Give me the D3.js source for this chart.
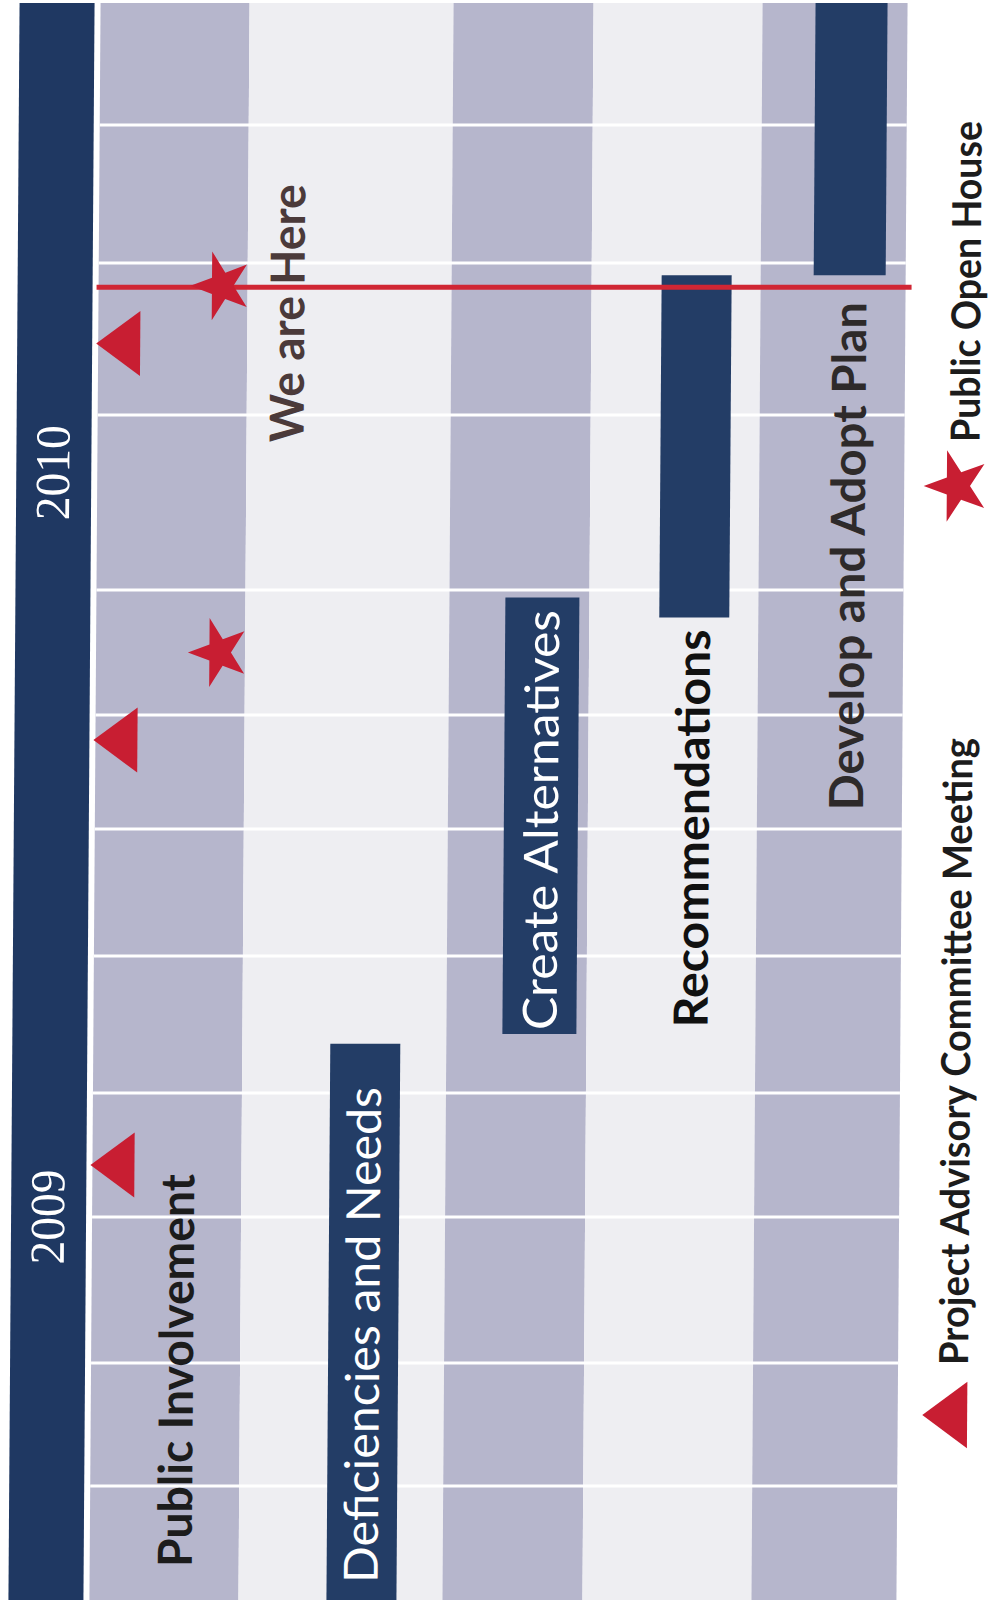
<!DOCTYPE html>
<html><head><meta charset="utf-8">
<script src="https://cdn.jsdelivr.net/npm/d3@7"></script>
<style>body{margin:0;background:#fff}svg{display:block}</style>
</head><body><div id="chart"></div>
<script>
// ---------------- DATA ----------------
const periods = [0,1,2,3,4,5,6,7,8,9,10,11,12];          // month boundaries of the schedule
const years = ["2009","2010"];
const yearLabelAt = [3.0, 8.67];                          // month position of year labels
const tasks = ["Public Involvement","Deficiencies and Needs","Create Alternatives","Recommendations","Develop and Adopt Plan"];
const taskStart = [null, 0, 4.43, 7.78, 9.92];
const taskEnd   = [null, 4.36, 7.94, 9.92, 12];
const pacMeetings = [3.42, 6.78, 9.47];                  // Project Advisory Committee Meetings
const openHouses  = [7.5, 9.85];                          // Public Open Houses
const nowAt = 9.84;
const nowLabel = "We are Here";
const legendLabels = ["Project Advisory Committee Meeting","Public Open House"];

// ---------------- LAYOUT ----------------
const W = 993, H = 1603;
const yBreaks = [1600,1486,1363,1217,1093,956,829,715,590,415,263,125,3];
const y = d3.scaleLinear().domain(periods).range(yBreaks);
const colLeft  = d3.scaleOrdinal().domain(tasks).range([95,244,448,588,757]);
const colWidth = d3.scaleOrdinal().domain(tasks).range([149,204,140,169,145]);
const colFill  = d3.scaleOrdinal().domain(tasks).range(["#b6b6cc","#eeeef2","#b6b6cc","#eeeef2","#b6b6cc"]);
const barLeft  = d3.scaleOrdinal().domain(tasks).range([0,332,504,658,810]);
const barWidth = d3.scaleOrdinal().domain(tasks).range([0,70,74,70,72]);
const labelX   = d3.scaleOrdinal().domain(tasks).range([197,383,558,709,863]);
const labelCfg = [
  {anchor:"start", ref:d=>0,           off:-33, len:393, weight:700, fill:"#1c1c1c"},
  {anchor:"start", ref:d=>taskStart[1], off:-17, len:496, weight:400, fill:"#ffffff"},
  {anchor:"start", ref:d=>taskStart[2], off:-4,  len:420, weight:400, fill:"#ffffff"},
  {anchor:"end",   ref:d=>taskStart[3], off:12,  len:398, weight:700, fill:"#111111"},
  {anchor:"end",   ref:d=>taskStart[4], off:27,  len:508, weight:700, fill:"#2e2a2a"}
];
const RED = "#c81e32", NAVY = "#1f3862", BAR = "#233d66";
const SANS = "Lato, 'Open Sans', sans-serif";

const svg = d3.select("#chart").append("svg").attr("width", W).attr("height", H);
svg.append("rect").attr("width", W).attr("height", H).attr("fill", "#fff");
const g = svg.append("g").attr("transform", "translate(0,800) skewX(-0.4) translate(0,-800)");

// columns
g.selectAll("rect.col").data(tasks).join("rect")
  .attr("x", d => colLeft(d)).attr("width", d => colWidth(d))
  .attr("y", y(12)).attr("height", y(0) - y(12))
  .attr("fill", d => colFill(d));

// month grid lines
g.selectAll("line.grid").data(periods.slice(1, -1)).join("line")
  .attr("x1", 95).attr("x2", 902)
  .attr("y1", d => y(d)).attr("y2", d => y(d))
  .attr("stroke", "#ffffff").attr("stroke-width", 3);

// year bar
g.append("rect").attr("x", 14).attr("width", 75)
  .attr("y", y(12)).attr("height", y(0) - y(12)).attr("fill", NAVY);
g.selectAll("text.year").data(years).join("text")
  .attr("transform", (d, i) => `translate(67,${y(yearLabelAt[i])}) rotate(-90)`)
  .attr("text-anchor", "middle")
  .attr("font-family", "'Liberation Serif', 'DejaVu Serif', serif")
  .attr("font-size", 49).attr("fill", "#ffffff")
  .attr("textLength", 95).attr("lengthAdjust", "spacingAndGlyphs")
  .text(d => d);

// task bars
const barTasks = tasks.map((t, i) => ({t, s: taskStart[i], e: taskEnd[i]})).filter(d => d.s !== null);
g.selectAll("rect.bar").data(barTasks).join("rect")
  .attr("x", d => barLeft(d.t)).attr("width", d => barWidth(d.t))
  .attr("y", d => y(d.e)).attr("height", d => y(d.s) - y(d.e))
  .attr("fill", BAR);

// task labels
g.selectAll("text.task").data(tasks).join("text")
  .attr("transform", (d, i) => `translate(${labelX(d)},${y(labelCfg[i].ref(d)) + labelCfg[i].off}) rotate(-90)`)
  .attr("text-anchor", (d, i) => labelCfg[i].anchor)
  .attr("font-family", SANS).attr("font-size", 47)
  .attr("font-weight", (d, i) => labelCfg[i].weight)
  .attr("fill", (d, i) => labelCfg[i].fill)
  .attr("textLength", (d, i) => labelCfg[i].len).attr("lengthAdjust", "spacingAndGlyphs")
  .text(d => d);

// "We are Here" line
g.append("line").attr("x1", 93).attr("x2", 908)
  .attr("y1", y(nowAt)).attr("y2", y(nowAt))
  .attr("stroke", "#d02634").attr("stroke-width", 5);
g.append("text")
  .attr("transform", `translate(301,${y(nowAt) + 155}) rotate(-90)`)
  .attr("font-family", SANS).attr("font-size", 47).attr("font-weight", 700)
  .attr("fill", "#4b3a3a").attr("textLength", 258).attr("lengthAdjust", "spacingAndGlyphs")
  .text(nowLabel);

// markers
const triPath = "M-22,0L22,-32.5L22,32.5Z";
const starPath = d3.symbol(d3.symbolStar, 1260)();
g.selectAll("path.tri").data(pacMeetings).join("path")
  .attr("d", triPath).attr("transform", d => `translate(115,${y(d)})`).attr("fill", RED);
g.selectAll("path.star").data(openHouses).join("path")
  .attr("d", starPath).attr("transform", d => `translate(218,${y(d)}) scale(0.93,1.08) rotate(-90)`).attr("fill", RED);

// legend
g.append("path").attr("d", triPath).attr("transform", "translate(949,1415) scale(1.02,1.02)").attr("fill", RED);
g.append("path").attr("d", starPath).attr("transform", "translate(955,486) scale(1.0,1.12) rotate(-90)").attr("fill", RED);
g.append("text")
  .attr("transform", "translate(972,1365) rotate(-90)")
  .attr("font-family", SANS).attr("font-size", 40).attr("font-weight", 700).attr("fill", "#1c1c1c")
  .attr("textLength", 627).attr("lengthAdjust", "spacingAndGlyphs")
  .text(legendLabels[0]);
g.append("text")
  .attr("transform", "translate(977,442) rotate(-90)")
  .attr("font-family", SANS).attr("font-size", 40).attr("font-weight", 700).attr("fill", "#1c1c1c")
  .attr("textLength", 321).attr("lengthAdjust", "spacingAndGlyphs")
  .text(legendLabels[1]);
</script>
</body></html>
